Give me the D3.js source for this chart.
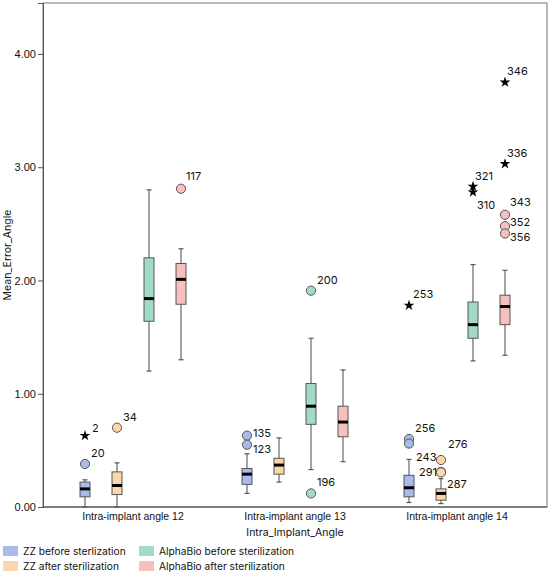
<!DOCTYPE html>
<html>
<head>
<meta charset="utf-8">
<script src="https://cdn.jsdelivr.net/npm/d3@7"></script>
<style>
  body { margin: 0; background: #fff; }
  svg { font-family: Inter, "Noto Sans", sans-serif; }
</style>
</head>
<body>
<script>
const groups = ["Intra-implant angle 12", "Intra-implant angle 13", "Intra-implant angle 14"];
const series = ["ZZ before sterlization", "ZZ after sterilization", "AlphaBio before sterilization", "AlphaBio after sterilization"];
const yTicks = [0, 1, 2, 3, 4];

// [min, q1, median, q3, max] per group
const zzBefore    = [[0.00, 0.09, 0.16, 0.22, 0.24], [0.12, 0.20, 0.29, 0.34, 0.47], [0.04, 0.09, 0.17, 0.28, 0.42]];
const zzAfter     = [[0.00, 0.11, 0.19, 0.31, 0.39], [0.22, 0.29, 0.37, 0.43, 0.61], [0.03, 0.06, 0.12, 0.16, 0.25]];
const alphaBefore = [[1.20, 1.64, 1.84, 2.20, 2.80], [0.33, 0.73, 0.89, 1.09, 1.49], [1.29, 1.49, 1.61, 1.81, 2.14]];
const alphaAfter  = [[1.30, 1.79, 2.01, 2.15, 2.28], [0.40, 0.62, 0.75, 0.89, 1.21], [1.34, 1.61, 1.77, 1.87, 2.09]];

// outliers: group index, series index, value, case id, kind
const outliers = [
    { g: 0, s: 0, v: 0.63, id: "2", kind: "star" },
    { g: 0, s: 0, v: 0.38, id: "20", kind: "circle" },
    { g: 0, s: 1, v: 0.70, id: "34", kind: "circle" },
    { g: 0, s: 3, v: 2.81, id: "117", kind: "circle" },
    { g: 1, s: 0, v: 0.63, id: "135", kind: "circle" },
    { g: 1, s: 0, v: 0.55, id: "123", kind: "circle" },
    { g: 1, s: 2, v: 1.91, id: "200", kind: "circle" },
    { g: 1, s: 2, v: 0.12, id: "196", kind: "circle" },
    { g: 2, s: 0, v: 1.78, id: "253", kind: "star" },
    { g: 2, s: 0, v: 0.60, id: "256", kind: "circle" },
    { g: 2, s: 0, v: 0.56, id: "243", kind: "circle" },
    { g: 2, s: 1, v: 0.415, id: "276", kind: "circle" },
    { g: 2, s: 1, v: 0.31, id: "291", kind: "circle" },
    { g: 2, s: 1, v: 0.305, id: "287", kind: "circle" },
    { g: 2, s: 2, v: 2.83, id: "321", kind: "star" },
    { g: 2, s: 2, v: 2.78, id: "310", kind: "star" },
    { g: 2, s: 3, v: 3.75, id: "346", kind: "star" },
    { g: 2, s: 3, v: 3.03, id: "336", kind: "star" },
    { g: 2, s: 3, v: 2.58, id: "343", kind: "circle" },
    { g: 2, s: 3, v: 2.48, id: "352", kind: "circle" },
    { g: 2, s: 3, v: 2.415, id: "356", kind: "circle" }
];

const stats = [zzBefore, zzAfter, alphaBefore, alphaAfter];
const colors = ["#a9bbeb", "#fcd6a8", "#a0dcc4", "#f8bfbf"];

// label placement tweaks (dx, dy from point)
const labelNudge = {
    "2": [7, -8], "135": [6, -3], "123": [6, 4], "117": [5, -13],
    "253": [4, -11], "243": [7, 14], "276": [7, -16], "291": [-4, 0],
    "287": [6, 12], "321": [2, -10], "310": [4, 13], "346": [2, -11],
    "336": [2, -11], "343": [5, -13], "352": [5, -4], "356": [5, 4]
};

const width = 550, height = 575;
const plot = { left: 43, right: 547, top: 3, bottom: 507 };

const svg = d3.select("body").append("svg")
    .attr("width", width)
    .attr("height", height);

const x = d3.scaleBand()
    .domain(groups)
    .range([52, 538]);

const xs = d3.scaleBand()
    .domain(d3.range(series.length))
    .range([17, 145]);

const y = d3.scaleLinear()
    .domain([0, 4.45])
    .range([plot.bottom, plot.top]);

const cx = (g, s) => x(groups[g]) + xs(s) + xs.bandwidth() / 2;

// frame
svg.append("rect")
    .attr("x", plot.left)
    .attr("y", plot.top)
    .attr("width", plot.right - plot.left)
    .attr("height", plot.bottom - plot.top)
    .attr("fill", "none")
    .attr("stroke", "#777")
    .attr("stroke-width", 1);

// y axis
const yAxis = svg.append("g")
    .attr("transform", `translate(${plot.left},0)`)
    .call(d3.axisLeft(y).tickValues(yTicks).tickFormat(d3.format(".2f")).tickSize(5).tickPadding(2));
yAxis.select(".domain").attr("stroke", "#555");
yAxis.selectAll(".tick line").attr("stroke", "#555");
yAxis.selectAll("text").attr("font-size", 11).attr("fill", "#111");

// x axis
const xAxis = svg.append("g")
    .attr("transform", `translate(0,${plot.bottom})`)
    .call(d3.axisBottom(x).tickSize(0).tickPadding(6));
xAxis.select(".domain").attr("stroke", "#444").attr("d", `M${plot.left},0H${plot.right}`);
xAxis.selectAll("text").attr("font-size", 10.5).attr("fill", "#111");

svg.append("text")
    .attr("x", x(groups[1]) + x.bandwidth() / 2)
    .attr("y", 535.5)
    .attr("text-anchor", "middle")
    .attr("font-size", 10.5)
    .attr("fill", "#111")
    .text("Intra_Implant_Angle");

svg.append("text")
    .attr("transform", `translate(11,${(plot.top + plot.bottom) / 2}) rotate(-90)`)
    .attr("text-anchor", "middle")
    .attr("font-size", 10.5)
    .attr("fill", "#111")
    .text("Mean_Error_Angle");

// boxes
const boxW = 10, capW = 5;
const boxData = [];
stats.forEach((arr, s) => arr.forEach((d, g) => boxData.push({ g, s, d })));

const box = svg.selectAll(".box")
    .data(boxData)
    .enter().append("g")
    .attr("class", "box");

box.append("line")
    .attr("x1", b => cx(b.g, b.s)).attr("x2", b => cx(b.g, b.s))
    .attr("y1", b => y(b.d[0])).attr("y2", b => y(b.d[4]))
    .attr("stroke", "#666").attr("stroke-width", 1.2);

box.selectAll(".cap")
    .data(b => [b.d[0], b.d[4]].map(v => ({ b, v })))
    .enter().append("line")
    .attr("x1", c => cx(c.b.g, c.b.s) - capW / 2)
    .attr("x2", c => cx(c.b.g, c.b.s) + capW / 2)
    .attr("y1", c => y(c.v)).attr("y2", c => y(c.v))
    .attr("stroke", "#555").attr("stroke-width", 1.2);

box.append("rect")
    .attr("x", b => cx(b.g, b.s) - boxW / 2)
    .attr("width", boxW)
    .attr("y", b => y(b.d[3]))
    .attr("height", b => y(b.d[1]) - y(b.d[3]))
    .attr("fill", b => colors[b.s])
    .attr("stroke", "#555")
    .attr("stroke-width", 1);

box.append("line")
    .attr("x1", b => cx(b.g, b.s) - boxW / 2)
    .attr("x2", b => cx(b.g, b.s) + boxW / 2)
    .attr("y1", b => y(b.d[2])).attr("y2", b => y(b.d[2]))
    .attr("stroke", "#000").attr("stroke-width", 3);

// outliers
const star = d3.symbol().type(d3.symbolStar).size(36);
const pts = svg.selectAll(".out")
    .data(outliers)
    .enter().append("g")
    .attr("class", "out")
    .attr("transform", o => `translate(${cx(o.g, o.s)},${y(o.v)})`);

pts.filter(o => o.kind === "circle").append("circle")
    .attr("r", 4.6)
    .attr("fill", o => colors[o.s])
    .attr("stroke", "#555")
    .attr("stroke-width", 1);

pts.filter(o => o.kind === "star").append("path")
    .attr("d", star)
    .attr("fill", "#000");

pts.append("text")
    .attr("x", o => (labelNudge[o.id] || [6, -11])[0])
    .attr("y", o => (labelNudge[o.id] || [6, -11])[1])
    .attr("dy", "0.35em")
    .attr("text-anchor", o => (labelNudge[o.id] || [6])[0] < 0 ? "end" : "start")
    .attr("font-size", 11)
    .attr("fill", "#111")
    .text(o => o.id);

// legend
const legend = svg.selectAll(".legend")
    .data(series)
    .enter().append("g")
    .attr("class", "legend")
    .attr("transform", (d, i) => `translate(${i < 2 ? 3 : 139},${i % 2 ? 566 : 551})`);

legend.append("rect")
    .attr("y", -5)
    .attr("width", 15)
    .attr("height", 10)
    .attr("fill", (d, i) => colors[i]);

legend.append("text")
    .attr("x", 20)
    .attr("dy", "0.35em")
    .attr("font-size", 10.2)
    .attr("fill", "#111")
    .text(d => d);
</script>
</body>
</html>
